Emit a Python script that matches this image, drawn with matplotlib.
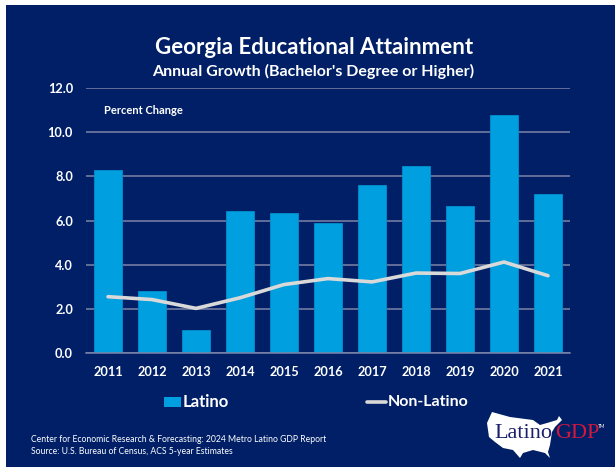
import matplotlib
matplotlib.use('Agg')
import matplotlib.pyplot as plt
from matplotlib.patches import Polygon, Rectangle

years = ['2011', '2012', '2013', '2014', '2015', '2016', '2017', '2018', '2019', '2020', '2021']
latino = [8.3, 2.8, 1.05, 6.45, 6.35, 5.9, 7.6, 8.45, 6.65, 10.8, 7.2]
non_latino = [2.55, 2.42, 2.02, 2.5, 3.1, 3.37, 3.22, 3.62, 3.6, 4.12, 3.5]
y_ticks = [0, 2, 4, 6, 8, 10, 12]

NAVY = '#001f66'
BLUE = '#009fdf'
W, H = 615, 467

plt.rcParams['font.family'] = ['Lato', 'DejaVu Sans']

fig = plt.figure(figsize=(W / 100, H / 100), dpi=100, facecolor='white')

# navy panel behind everything, in pixel coordinates
overlay = fig.add_axes([0, 0, 1, 1], zorder=0)
overlay.set_xlim(0, W)
overlay.set_ylim(H, 0)
overlay.axis('off')
overlay.add_patch(Rectangle((6, 5), W - 6, H - 5, color=NAVY, lw=0))

ax = fig.add_axes([86 / W, 1 - 353 / H, 484 / W, 265 / H], zorder=1)
ax.patch.set_alpha(0)
x = list(range(len(years)))
ax.bar(x, latino, width=0.64, color=BLUE, edgecolor='#0090cc', linewidth=0.6, zorder=2)
ax.plot(x, non_latino, color='#d9d9d9', lw=2.6, solid_capstyle='round', zorder=3)

ax.set_xlim(-0.5, 10.5)
ax.set_ylim(0, 12)
ax.set_yticks(y_ticks)
ax.set_yticklabels([f'{v:.1f}' for v in y_ticks], color='white', fontsize=9.2, fontweight='bold')
ax.set_xticks(x)
ax.set_xticklabels(years, color='white', fontsize=9.2, fontweight='bold')
ax.tick_params(length=0, pad=9.4, axis='y')
ax.tick_params(length=0, pad=9.5, axis='x')
ax.grid(axis='y', color='#7d84a8', lw=1.1, zorder=1)
ax.set_axisbelow(True)
for side in ['top', 'right', 'left']:
    ax.spines[side].set_visible(False)
ax.spines['bottom'].set_color('#7d84a8')
ax.spines['bottom'].set_linewidth(1.1)

# titles and notes
overlay.text(314, 47, 'Georgia Educational Attainment', color='white', fontsize=16,
             fontweight='bold', ha='center', va='center')
overlay.text(313.5, 71, "Annual Growth (Bachelor's Degree or Higher)", color='white', fontsize=11.5,
             fontweight='bold', ha='center', va='center')
overlay.text(104, 111, 'Percent Change', color='white', fontsize=8, fontweight='bold', va='center')
overlay.text(31, 439, 'Center for Economic Research & Forecasting: 2024 Metro Latino GDP Report',
             color='white', fontsize=6.2, va='center')
overlay.text(31, 451, 'Source: U.S. Bureau of Census, ACS 5-year Estimates', color='white',
             fontsize=6.2, va='center')

# legend
overlay.add_patch(Rectangle((164, 397), 17, 10, color=BLUE, lw=0))
overlay.text(183, 402, 'Latino', color='white', fontsize=12, fontweight='bold', va='center')
overlay.plot([367, 386], [402, 402], color='#d9d9d9', lw=2.6, solid_capstyle='round')
overlay.text(388, 402, 'Non-Latino', color='white', fontsize=11.5, fontweight='bold', va='center')

# logo: map outline with the wordmark on top
outline = [(492, 412), (510, 417), (533, 420), (540, 425), (547, 423), (557, 420), (559, 416),
           (562, 420), (555, 427), (552, 432), (550, 445), (548, 452), (550, 458), (545, 453),
           (533, 450), (523, 453), (520, 458), (513, 450), (503, 448), (495, 442), (489, 437),
           (487, 423)]
overlay.add_patch(Polygon(outline, closed=True, color='white', lw=0))
overlay.text(494, 434, 'Latino', color='#1b1f6b', fontsize=16, family='Liberation Serif', va='center')
overlay.text(555, 434, 'GDP', color='#d4183d', fontsize=16, family='Liberation Serif', va='center')
overlay.text(598, 427, 'TM', color='white', fontsize=3.5, va='center')

fig.savefig('out.png', dpi=100, facecolor=fig.get_facecolor())
